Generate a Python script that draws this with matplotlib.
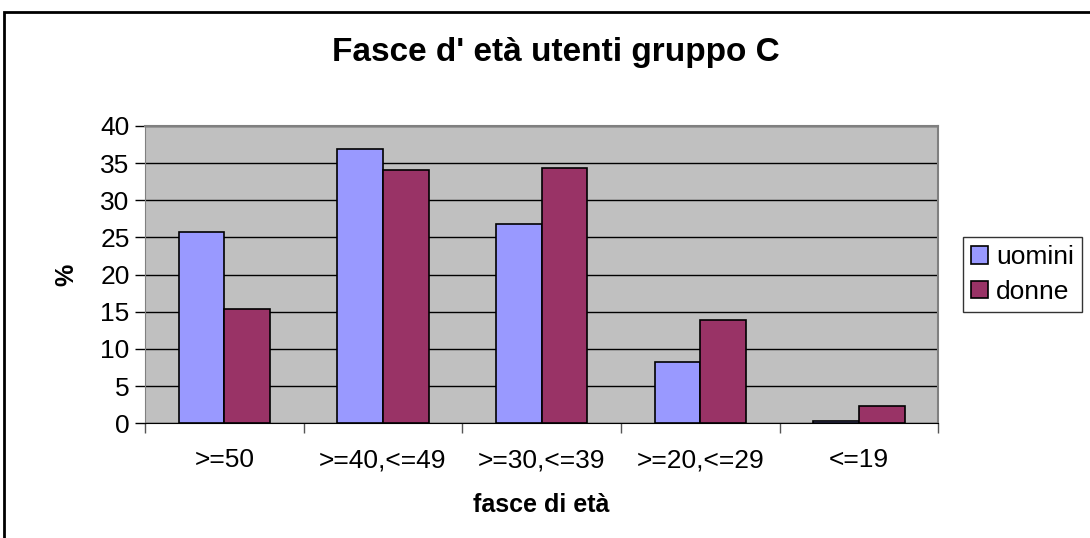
import numpy as np
import matplotlib

matplotlib.use("Agg")
import matplotlib.pyplot as plt
from matplotlib.patches import Rectangle

plt.rcParams["font.family"] = ["Liberation Sans", "DejaVu Sans"]

# data
fasce = [">=50", ">=40,<=49", ">=30,<=39", ">=20,<=29", "<=19"]
uomini = [25.7, 36.9, 26.8, 8.3, 0.3]
donne = [15.4, 34.1, 34.3, 13.9, 2.3]
y_ticks = [0, 5, 10, 15, 20, 25, 30, 35, 40]

fig = plt.figure(figsize=(10.9, 5.38), dpi=100)
ax = fig.add_axes([0.133, 0.2132, 0.7277, 0.5526])

x = np.arange(len(fasce))
w = 0.288
ax.bar(x - w / 2, uomini, w, color="#9999FF", edgecolor="black", linewidth=1.2,
       label="uomini", zorder=3)
ax.bar(x + w / 2, donne, w, color="#993366", edgecolor="black", linewidth=1.2,
       label="donne", zorder=3)

ax.set_facecolor("#C0C0C0")
ax.set_xlim(-0.5, len(fasce) - 0.5)
ax.set_ylim(0, 40)
ax.set_yticks(y_ticks)
ax.yaxis.grid(True, color="black", linewidth=1, zorder=1)
ax.set_axisbelow(True)

ax.set_xticks(x)
ax.set_xticklabels(fasce, fontsize=19)
ax.set_xticks(np.arange(-0.5, len(fasce)), minor=True)
ax.tick_params(axis="x", which="major", length=0, pad=18)
ax.tick_params(axis="x", which="minor", length=7, width=1, color="#555555")
ax.tick_params(axis="y", length=7, width=1, labelsize=19, pad=4)

for s in ["top", "right"]:
    ax.spines[s].set_color("#808080")
    ax.spines[s].set_linewidth(1.5)
ax.spines["left"].set_color("#808080")
ax.spines["bottom"].set_color("black")

fig.text(556 / 1090, 1 - 52 / 538, "Fasce d' età utenti gruppo C", fontsize=24,
         fontweight="bold", ha="center", va="center")
ax.set_xlabel("fasce di età", fontsize=18, fontweight="bold", labelpad=15)
ax.set_ylabel("%", fontsize=18, fontweight="bold", labelpad=16)

leg = ax.legend(loc="center left", bbox_to_anchor=(1.0315, 0.5), fontsize=19,
                frameon=True, fancybox=False, edgecolor="black",
                handlelength=0.65, handleheight=0.65, handletextpad=0.3,
                borderaxespad=0, labelspacing=0.4, borderpad=0.3)
leg.get_frame().set_linewidth(1)

# outer chart border, cut off at right and bottom like the original
fig.patches.append(Rectangle((4 / 1090, -0.1), 1.2, 1 - 12 / 538 + 0.1,
                             transform=fig.transFigure, fill=False,
                             edgecolor="black", linewidth=2))

fig.savefig("out.png", dpi=100)
